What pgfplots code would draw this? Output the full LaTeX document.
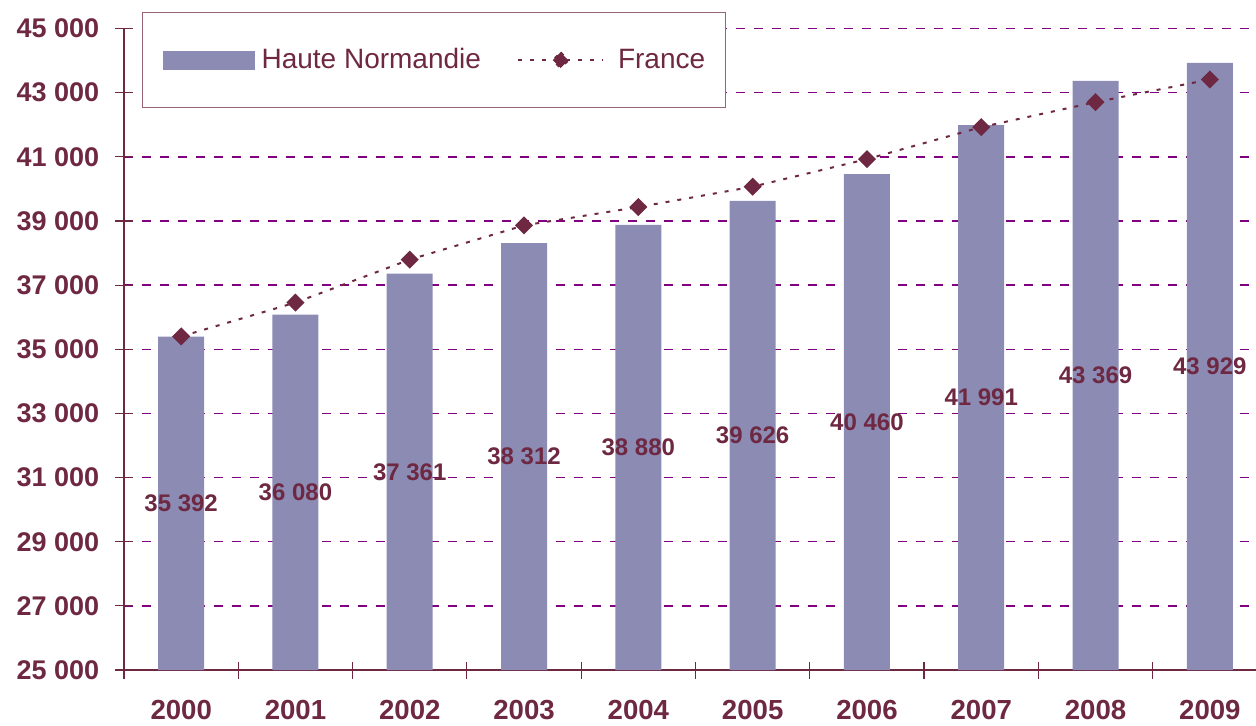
\documentclass[border=0pt]{standalone}
\usepackage{pgfplots}
\usepackage{pgfplotstable}
\pgfplotsset{compat=1.18}
\usepackage{fontspec}
\setmainfont{Liberation Sans}
\definecolor{mar}{RGB}{110,40,66}
\definecolor{barc}{RGB}{139,139,180}
\definecolor{gridc}{RGB}{128,0,128}
\definecolor{legb}{RGB}{150,100,120}

\pgfplotstableread{
x hn fr
0 35392 35400
1 36080 36455
2 37361 37795
3 38312 38862
4 38880 39433
5 39626 40068
6 40460 40928
7 41991 41925
8 43369 42704
9 43929 43411
}\data

\begin{document}
\begin{tikzpicture}
\useasboundingbox (-62pt,-27.5pt) rectangle (566pt,335pt);
\begin{axis}[
  at={(0pt,0pt)}, anchor=south west,
  scale only axis, width=566pt, height=320.75pt,
  xmin=-0.5, xmax=9.404, ymin=25000, ymax=45000,
  scaled y ticks=false,
  axis x line*=bottom, axis y line*=left,
  axis line style={mar, line width=0.6pt},
  tick style={mar, line width=0.6pt},
  tick align=center, major tick length=8.5pt,
  xtick={-0.5,0.5,...,8.5},
  xticklabels={2000,2001,2002,2003,2004,2005,2006,2007,2008,2009},
  xticklabel style={anchor=base, xshift=28.6pt, yshift=-20.5pt, font=\fontsize{13.8}{14}\selectfont\bfseries, text=mar},
  ytick={25000,27000,...,45000},
  yticklabels={25 000,27 000,29 000,31 000,33 000,35 000,37 000,39 000,41 000,43 000,45 000},
  yticklabel style={anchor=east, inner sep=0pt, xshift=-8pt, font=\fontsize{13.5}{14}\selectfont\bfseries, text=mar},
  ymajorgrids,
  major grid style={gridc, line width=0.75pt, dash pattern=on 4.5pt off 4.5pt},
  legend columns=2,
  legend style={
    at={(rel axis cs:0.0159,1)}, anchor=north west, yshift=8.25pt,
    draw=legb, fill=white, line width=0.6pt,
    font=\fontsize{14}{16}\selectfont, text=mar,
    inner xsep=10pt, inner ysep=18pt,
    nodes={inner sep=0pt},
    column sep=0pt,
    /tikz/column 1/.style={column sep=3.5pt},
    /tikz/column 2/.style={column sep=18pt},
    /tikz/column 3/.style={column sep=7pt},
  },
]
\addplot[ybar, bar width=23pt, fill=barc, draw=none,
  legend image code/.code={\fill[barc] (0pt,-4.75pt) rectangle (46pt,4.75pt);}]
  table[x=x, y=hn] {\data};
\addlegendentry{Haute Normandie}
\addplot[mar, line width=1pt, dash pattern=on 2pt off 4pt,
  mark=square*, mark size=2.7pt, mark options={solid, rotate=45, fill=mar, draw=mar},
  legend image code/.code={
    \draw[mar, line width=1pt, dash pattern=on 2pt off 4pt] (0pt,0pt) -- (42.5pt,0pt);
    \fill[mar] (21.25pt,3.9pt) -- (25.15pt,0pt) -- (21.25pt,-3.9pt) -- (17.35pt,0pt) -- cycle;}]
  table[x=x, y=fr] {\data};
\addlegendentry{France}
\addplot[draw=none, mark=none, forget plot, point meta=explicit,
  nodes near coords={\pgfmathprintnumber[fixed, precision=0, 1000 sep={\ }, assume math mode=true]{\pgfplotspointmeta}},
  every node near coord/.append style={anchor=center, font=\fontsize{12}{13}\selectfont\bfseries, text=mar}]
  table[x=x, y expr=(\thisrow{hn}+25000)/2, meta=hn] {\data};
\end{axis}
\end{tikzpicture}
\end{document}
